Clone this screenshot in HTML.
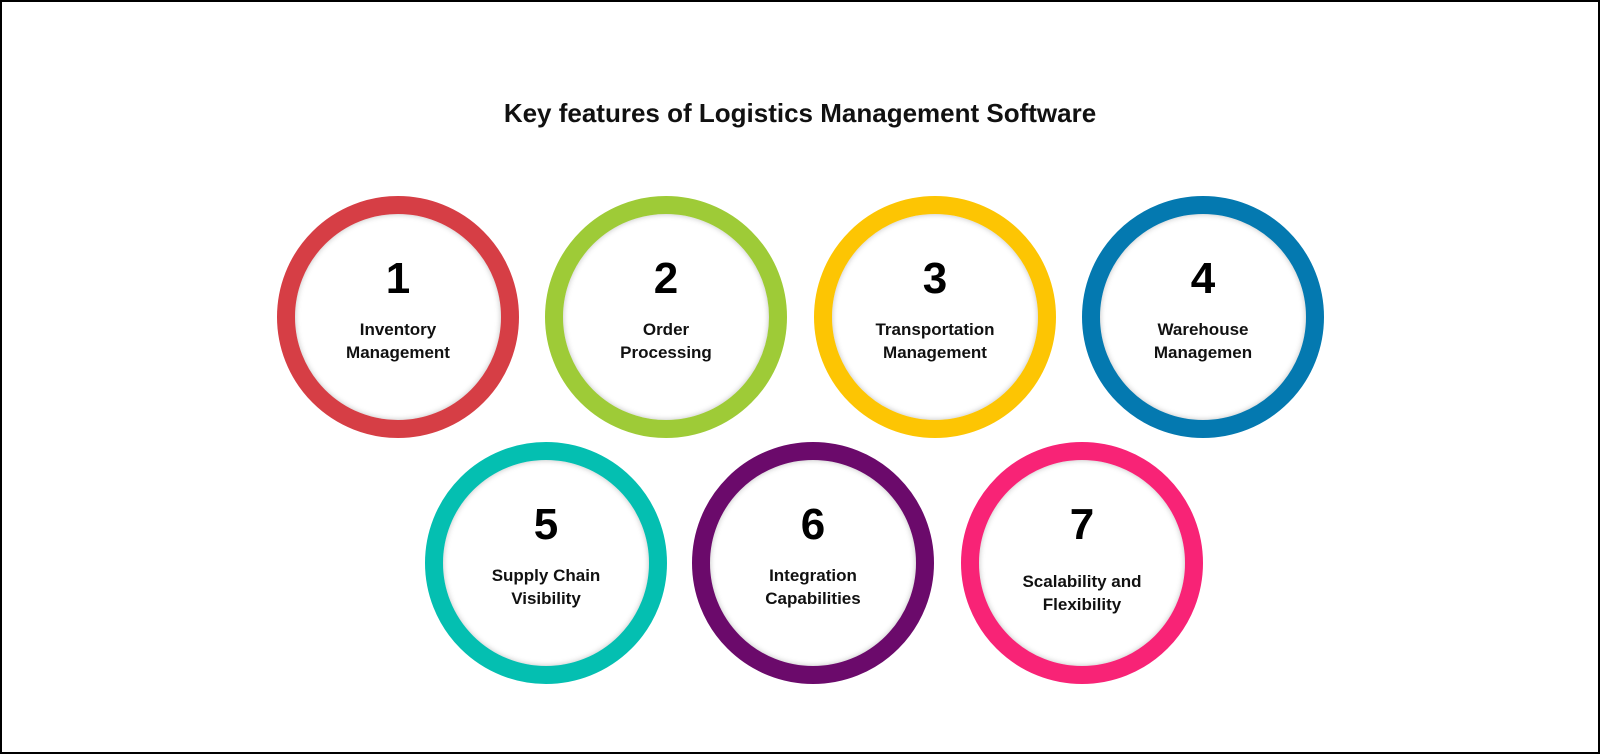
<!DOCTYPE html>
<html><head><meta charset="utf-8"><style>
html,body{margin:0;padding:0;background:#fff;}
#f{position:relative;width:1600px;height:754px;box-sizing:border-box;border:2px solid #000;overflow:hidden;font-family:"Liberation Sans",sans-serif;}
.t{position:absolute;left:0;width:100%;top:96px;text-align:center;font-weight:bold;font-size:26px;color:#111;}
.c{position:absolute;width:242px;height:242px;box-sizing:border-box;border-radius:50%;border:18px solid;background:#fff;box-shadow:inset 0 0 6px rgba(0,0,0,.25);}
.n{position:absolute;left:0;width:100%;top:40px;text-align:center;font-size:44px;font-weight:bold;color:#000;line-height:50px;}
.l{position:absolute;left:0;width:100%;top:104px;text-align:center;font-size:17px;font-weight:bold;color:#111;line-height:23px;}
</style></head><body><div id="f">
<div class="t">Key features of Logistics Management Software</div>
<div class="c" style="left:275px;top:194px;border-color:#d63e45"><div class="n">1</div><div class="l">Inventory<br>Management</div></div>
<div class="c" style="left:543px;top:194px;border-color:#9ecb37"><div class="n">2</div><div class="l">Order<br>Processing</div></div>
<div class="c" style="left:812px;top:194px;border-color:#fdc503"><div class="n">3</div><div class="l">Transportation<br>Management</div></div>
<div class="c" style="left:1080px;top:194px;border-color:#0479b0"><div class="n">4</div><div class="l">Warehouse<br>Managemen</div></div>
<div class="c" style="left:423px;top:440px;border-color:#04bfb1"><div class="n">5</div><div class="l">Supply Chain<br>Visibility</div></div>
<div class="c" style="left:690px;top:440px;border-color:#6b0a6b"><div class="n">6</div><div class="l">Integration<br>Capabilities</div></div>
<div class="c" style="left:959px;top:440px;border-color:#f82376"><div class="n">7</div><div class="l" style="top:110px">Scalability and<br>Flexibility</div></div>
</div></body></html>
